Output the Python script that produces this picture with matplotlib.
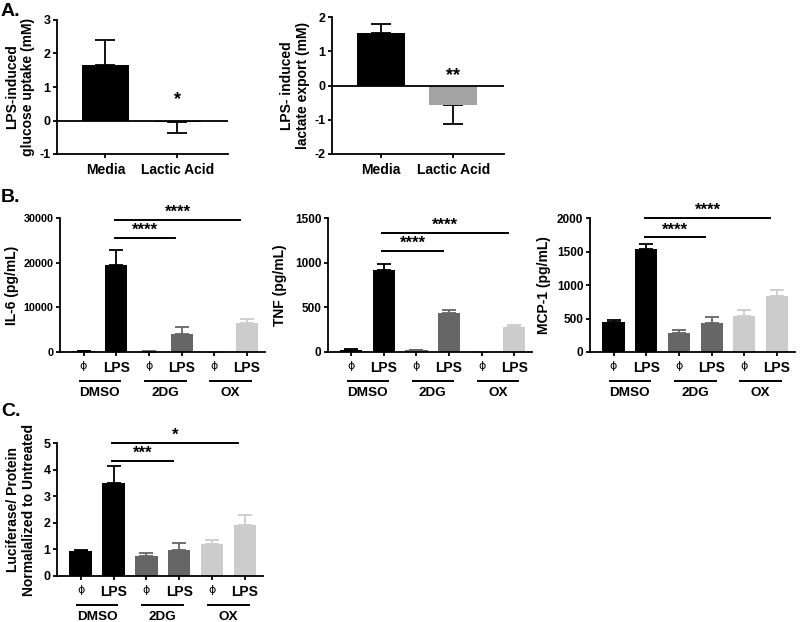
import matplotlib
matplotlib.use("Agg")
import matplotlib.pyplot as plt
import numpy as np

plt.rcParams['font.family'] = ['Liberation Sans', 'DejaVu Sans']
plt.rcParams['font.weight'] = 'bold'
plt.rcParams['axes.unicode_minus'] = False

# ---------------- data ----------------
a_categories = ['Media', 'Lactic Acid']
glucose_mean = [1.65, -0.05]
glucose_err = [0.75, 0.31]
lactate_mean = [1.52, -0.57]
lactate_err = [0.27, 0.56]
a_colors = [['#000000', '#000000'], ['#000000', '#a3a3a3']]
a_stars = ['*', '**']
a_star_y = [0.62, 0.28]

bar_labels = ['\u03d5', 'LPS', '\u03d5', 'LPS', '\u03d5', 'LPS']
groups = ['DMSO', '2DG', 'OX']
group_colors = ['#000000', '#666666', '#cccccc']

il6_mean = [200, 19500, 80, 4030, 60, 6400]
il6_err = [120, 3250, 40, 1570, 30, 1050]
tnf_mean = [20, 918, 18, 432, 3, 280]
tnf_err = [10, 70, 8, 41, 2, 22]
mcp_mean = [448, 1537, 284, 433, 542, 840]
mcp_err = [34, 79, 49, 83, 89, 90]
luc_mean = [0.93, 3.5, 0.74, 0.97, 1.2, 1.92]
luc_err = [0.04, 0.62, 0.12, 0.27, 0.17, 0.38]

# significance brackets: (start bar, end bar, y, label)
il6_sig = [(1, 3, 25600, '****'), (1, 5, 29600, '****')]
tnf_sig = [(1, 3, 1134, '****'), (1, 5, 1332, '****')]
mcp_sig = [(1, 3, 1710, '****'), (1, 5, 2000, '****')]
luc_sig = [(1, 3, 4.34, '***'), (1, 5, 5.0, '*')]

W, H = 800, 622
fig = plt.figure(figsize=(W / 100, H / 100), dpi=100)


def add_ax(left, top, right, bottom):
    return fig.add_axes([left / W, 1 - bottom / H, (right - left) / W, (bottom - top) / H])


LW = 1.3
LAB_FS = 10


def style(ax, tick_fs):
    for s in ['top', 'right']:
        ax.spines[s].set_visible(False)
    for s in ['left', 'bottom']:
        ax.spines[s].set_linewidth(LW)
    ax.tick_params(width=LW, length=3.2)
    ax.tick_params(axis='y', pad=1.5, labelsize=tick_fs)
    for t in ax.get_yticklabels():
        t.set_fontweight('bold')


def panel_a(ax, means, errs, colors, ylim, yticks, ylabel, star, star_y):
    x = np.arange(len(means))
    for i in range(len(means)):
        ax.bar(x[i], means[i], width=0.66, color=colors[i], zorder=2)
        sign = 1 if means[i] >= 0 else -1
        ax.errorbar(x[i], means[i], yerr=[[0], [errs[i]]] if sign > 0 else [[errs[i]], [0]],
                    color='black', capsize=7.5, elinewidth=LW, capthick=LW, zorder=1)
    ax.axhline(0, color='black', lw=LW, zorder=3)
    ax.set_xlim(-0.67, 1.7)
    ax.set_ylim(*ylim)
    ax.set_yticks(yticks)
    ax.set_xticks(x)
    ax.set_xticklabels(a_categories, fontsize=LAB_FS, fontweight='bold')
    ax.tick_params(axis='x', pad=3)
    ax.set_ylabel(ylabel, fontsize=LAB_FS, fontweight='bold', labelpad=3)
    ax.text(1, star_y, star, ha='center', va='center', fontsize=13, fontweight='bold')
    style(ax, 9)


ax1 = add_ax(57, 20, 228, 154)
panel_a(ax1, glucose_mean, glucose_err, a_colors[0], (-1, 3), [-1, 0, 1, 2, 3],
        'LPS-induced\nglucose uptake (mM)', a_stars[0], a_star_y[0])
ax2 = add_ax(332, 17, 504, 154)
panel_a(ax2, lactate_mean, lactate_err, a_colors[1], (-2, 2), [-2, -1, 0, 1, 2],
        'LPS- induced\nlactate export (mM)', a_stars[1], a_star_y[1])


def panel_b(ax, means, errs, ylim, yticks, ylabel, sigs, tick_fs, labelpad):
    x = np.arange(len(means))
    cols = [group_colors[i // 2] for i in range(len(means))]
    for i in range(len(means)):
        ax.bar(x[i], means[i], width=0.68, color=cols[i], zorder=2)
        ax.errorbar(x[i], means[i], yerr=[[0], [errs[i]]], color=cols[i],
                    capsize=5, elinewidth=LW, capthick=LW, zorder=1)
    ax.set_xlim(-0.72, 5.55)
    ax.set_ylim(*ylim)
    ax.set_yticks(yticks)
    ax.set_xticks(x)
    ax.set_xticklabels(bar_labels)
    for i, t in enumerate(ax.get_xticklabels()):
        if bar_labels[i] == 'LPS':
            t.set_fontsize(LAB_FS)
            t.set_fontweight('bold')
        else:
            t.set_fontsize(8)
            t.set_fontweight('normal')
            t.set_family(['DejaVu Sans'])
    ax.set_ylabel(ylabel, fontsize=LAB_FS, fontweight='bold', labelpad=labelpad)
    ax.tick_params(axis='x', length=3.2, pad=3)
    trans = ax.get_xaxis_transform()
    hpx = ax.get_position().height * H
    for g, name in enumerate(groups):
        c = 2 * g + 0.5
        ax.plot([c - 0.62, c + 0.62], [-29 / hpx, -29 / hpx], color='black', lw=1.4,
                transform=trans, clip_on=False)
        ax.text(c, -41 / hpx, name, ha='center', va='center', fontsize=LAB_FS - 0.3,
                fontweight='bold', transform=trans)
    for (s, e, y, lab) in sigs:
        ax.plot([s - 0.05, e - 0.2], [y, y], color='black', lw=1.4, clip_on=False)
        ax.text((s + e - 0.25) / 2, y, lab, ha='center', va='bottom', fontsize=12,
                fontweight='bold', clip_on=False)
    style(ax, tick_fs)


ax3 = add_ax(60, 218, 265, 352)
panel_b(ax3, il6_mean, il6_err, (0, 30000), [0, 10000, 20000, 30000], 'IL-6 (pg/mL)', il6_sig, 7.8, 3)
ax4 = add_ax(328, 218, 532, 352)
panel_b(ax4, tnf_mean, tnf_err, (0, 1500), [0, 500, 1000, 1500], 'TNF (pg/mL)', tnf_sig, 8.5, 6)
ax5 = add_ax(590, 218, 795, 352)
panel_b(ax5, mcp_mean, mcp_err, (0, 2000), [0, 500, 1000, 1500, 2000], 'MCP-1 (pg/mL)', mcp_sig, 8.5, 4)
ax6 = add_ax(57, 443, 263, 576)
panel_b(ax6, luc_mean, luc_err, (0, 5), [0, 1, 2, 3, 4, 5],
        'Luciferase/ Protein\nNormalalized to Untreated', luc_sig, 9, 5)

fig.text(1 / W, 1 - 11 / H, 'A.', fontsize=14, fontweight='bold', va='center')
fig.text(1 / W, 1 - 197 / H, 'B.', fontsize=14, fontweight='bold', va='center')
fig.text(1 / W, 1 - 412 / H, 'C.', fontsize=14, fontweight='bold', va='center')

fig.savefig('out.png', dpi=100)
